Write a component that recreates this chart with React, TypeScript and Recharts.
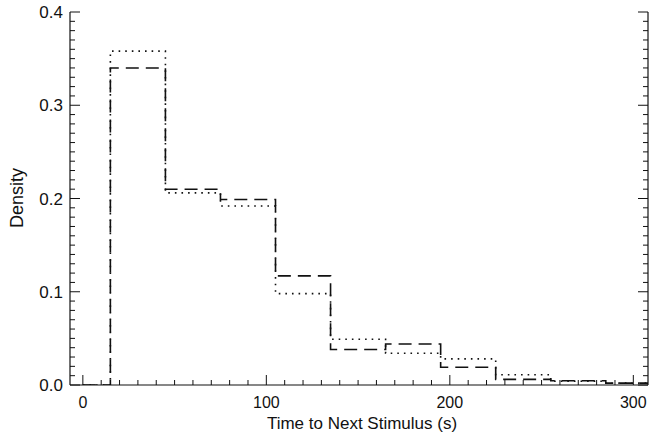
import { LineChart, Line, XAxis, YAxis } from 'recharts'

// histogram bin left edges (s), bins are 30 s wide
const binEdges = [15, 45, 75, 105, 135, 165, 195, 225, 255, 285]
const dashedDensity = [0.340, 0.210, 0.199, 0.117, 0.038, 0.044, 0.019, 0.006, 0.0045, 0.002]
const dottedDensity = [0.358, 0.206, 0.192, 0.098, 0.049, 0.034, 0.028, 0.011, 0.004, 0.002]

const X_START = 0
const X_DOMAIN: [number, number] = [-7, 308]
const Y_DOMAIN: [number, number] = [0, 0.4]

const xTicks = Array.from({ length: 31 }, (_, i) => i * 10)
const yTicks = Array.from({ length: 41 }, (_, i) => i / 100)

const data = [
  { t: X_START, a: 0, b: 0 },
  ...binEdges.map((t, i) => ({ t, a: dashedDensity[i], b: dottedDensity[i] })),
  { t: X_DOMAIN[1], a: dashedDensity[dashedDensity.length - 1], b: dottedDensity[dottedDensity.length - 1] },
]

const FONT = '"Liberation Sans", Arial, Helvetica, sans-serif'
const INK = '#111'

const isMajorX = (v: number) => v % 100 === 0
const isMajorY = (v: number) => Math.round(v * 100) % 10 === 0

function BottomTick(props: any) {
  const { x, y, payload } = props
  const major = isMajorX(payload.value)
  return (
    <g>
      <line x1={x} x2={x} y1={y} y2={y - (major ? 10 : 5)} stroke={INK} strokeWidth={1} />
      {major && (
        <text x={x} y={y + 23} textAnchor="middle" fontSize={16} fontFamily={FONT} fill={INK}>
          {payload.value}
        </text>
      )}
    </g>
  )
}

function TopTick(props: any) {
  const { x, y, payload } = props
  const major = isMajorX(payload.value)
  return <line x1={x} x2={x} y1={y} y2={y + (major ? 10 : 5)} stroke={INK} strokeWidth={1} />
}

function LeftTick(props: any) {
  const { x, y, payload } = props
  const major = isMajorY(payload.value)
  return (
    <g>
      <line x1={x} x2={x + (major ? 10 : 5)} y1={y} y2={y} stroke={INK} strokeWidth={1} />
      {major && (
        <text x={x - 7} y={y + 6} textAnchor="end" fontSize={17} fontFamily={FONT} fill={INK}>
          {payload.value.toFixed(1)}
        </text>
      )}
    </g>
  )
}

function RightTick(props: any) {
  const { x, y, payload } = props
  const major = isMajorY(payload.value)
  return <line x1={x} x2={x - (major ? 10 : 5)} y1={y} y2={y} stroke={INK} strokeWidth={1} />
}

export default function App() {
  return (
    <div style={{ position: 'absolute', left: 0, top: 0, background: '#fff' }}>
      <LineChart width={650} height={434} data={data} margin={{ top: 12, right: 0, bottom: 0, left: 0 }}>
        <XAxis
          xAxisId="b"
          dataKey="t"
          type="number"
          domain={X_DOMAIN}
          ticks={xTicks}
          interval={0}
          height={49}
          tickSize={0}
          tickMargin={0}
          tickLine={false}
          axisLine={{ stroke: INK, strokeWidth: 1.2 }}
          tick={<BottomTick />}
          allowDataOverflow
        />
        <XAxis
          xAxisId="t"
          orientation="top"
          dataKey="t"
          type="number"
          domain={X_DOMAIN}
          ticks={xTicks}
          interval={0}
          height={0}
          tickSize={0}
          tickMargin={0}
          tickLine={false}
          axisLine={{ stroke: INK, strokeWidth: 1.2 }}
          tick={<TopTick />}
          allowDataOverflow
        />
        <YAxis
          yAxisId="l"
          type="number"
          domain={Y_DOMAIN}
          ticks={yTicks}
          interval={0}
          width={70}
          tickSize={0}
          tickMargin={0}
          tickLine={false}
          axisLine={{ stroke: INK, strokeWidth: 1.2 }}
          tick={<LeftTick />}
          allowDataOverflow
        />
        <YAxis
          yAxisId="r"
          orientation="right"
          type="number"
          domain={Y_DOMAIN}
          ticks={yTicks}
          interval={0}
          width={2}
          tickSize={0}
          tickMargin={0}
          tickLine={false}
          axisLine={{ stroke: INK, strokeWidth: 1.2 }}
          tick={<RightTick />}
          allowDataOverflow
        />
        <Line
          xAxisId="b"
          yAxisId="l"
          type="stepAfter"
          dataKey="a"
          stroke={INK}
          strokeWidth={1.6}
          strokeDasharray="13 7"
          dot={false}
          isAnimationActive={false}
        />
        <Line
          xAxisId="b"
          yAxisId="l"
          type="stepAfter"
          dataKey="b"
          stroke={INK}
          strokeWidth={1.6}
          strokeDasharray="1.6 5"
          dot={false}
          isAnimationActive={false}
        />
        <text x={362} y={429} textAnchor="middle" fontSize={17} fontFamily={FONT} fill={INK}>
          Time to Next Stimulus (s)
        </text>
        <text x={23} y={198} textAnchor="middle" fontSize={18} fontFamily={FONT} fill={INK} transform="rotate(-90 23 198)">
          Density
        </text>
      </LineChart>
    </div>
  )
}
